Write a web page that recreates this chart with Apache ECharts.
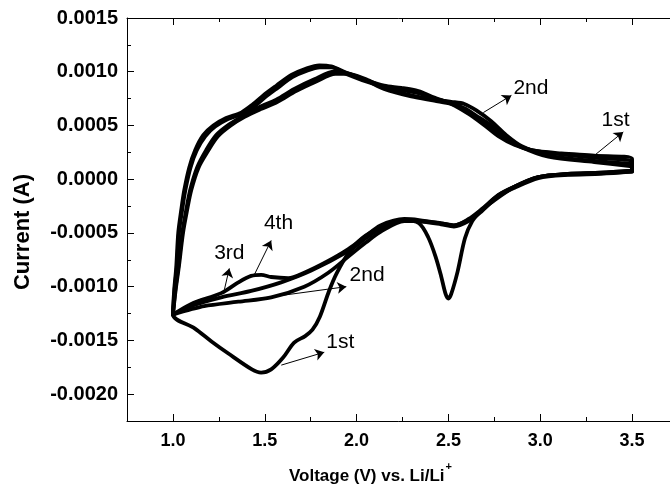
<!DOCTYPE html>
<html><head><meta charset="utf-8">
<script src="https://cdn.jsdelivr.net/npm/echarts@6/dist/echarts.min.js"></script>
<style>html,body{margin:0;padding:0;background:#fff}#c{width:670px;height:491px}</style>
</head><body><div id="c"></div>
<script>
// ---- axis ticks ----
const xTicks = [1.0, 1.5, 2.0, 2.5, 3.0, 3.5];
const xMinorTicks = [1.25, 1.75, 2.25, 2.75, 3.25];
const yTicks = [-0.0020, -0.0015, -0.0010, -0.0005, 0.0, 0.0005, 0.0010, 0.0015];
const yMinorTicks = [-0.00175, -0.00125, -0.00075, -0.00025, 0.00025, 0.00075, 0.00125];

// ---- CV cycles: [voltage (V), current (A)] cathodic 3.5->1.0 then anodic 1.0->3.5 ----
const cycle1 = [
  [3.5,0.00007],[3.33,0.000056],[3.15,0.000046],[2.99,0.00002],[2.86,-0.00007],[2.73,-0.00022],[2.68,-0.00029],
  [2.63,-0.00039],[2.59,-0.00055],[2.55,-0.00086],[2.515,-0.00107],[2.5,-0.00111],[2.485,-0.00107],[2.46,-0.0009],
  [2.43,-0.00072],[2.39,-0.00054],[2.34,-0.00041],[2.26,-0.00038],[2.13,-0.00045],[2.03,-0.00055],[1.955,-0.00069],
  [1.89,-0.00088],[1.85,-0.00104],[1.80,-0.00128],[1.76,-0.0014],[1.72,-0.00146],[1.66,-0.00152],[1.60,-0.00166],
  [1.535,-0.00177],[1.48,-0.0018],[1.43,-0.00177],[1.30,-0.00162],[1.21,-0.00151],[1.12,-0.00139],[1.0,-0.00126],
  [1.007,-0.00103],[1.018,-0.00082],[1.029,-0.0005],[1.045,-0.00029],[1.062,-0.0001],[1.089,0.00011],[1.121,0.00027],
  [1.165,0.00041],[1.22,0.0005],[1.29,0.00057],[1.372,0.00062],[1.437,0.0007],[1.492,0.00078],[1.563,0.00087],
  [1.645,0.00097],[1.726,0.00103],[1.797,0.00106],[1.862,0.00105],[1.944,0.00099],[2.052,0.00092],[2.15,0.00087],
  [2.243,0.00085],[2.336,0.00082],[2.423,0.00076],[2.516,0.0007],[2.608,0.00061],[2.69,0.00051],[2.772,0.0004],
  [2.859,0.00032],[2.952,0.00027],[3.115,0.00024],[3.294,0.00022],[3.5,0.00019],[3.5,0.00008]
];
const cycle2 = [
  [3.5,0.00008],[3.33,0.00006],[3.15,0.00005],[2.99,0.00002],[2.86,-0.00007],[2.77,-0.00015],[2.68,-0.00028],
  [2.61,-0.00037],[2.53,-0.00043],[2.46,-0.00041],[2.34,-0.00039],[2.26,-0.00039],[2.13,-0.00049],[2.05,-0.00059],
  [1.955,-0.00072],[1.846,-0.00087],[1.715,-0.001],[1.535,-0.0011],[1.356,-0.00114],[1.17,-0.00118],[1.1,-0.00121],
  [1.0,-0.00126],
  [1.013,-0.00103],[1.029,-0.00082],[1.051,-0.0005],[1.072,-0.00029],[1.094,-0.0001],[1.132,0.00011],[1.181,0.00027],
  [1.236,0.00041],[1.307,0.00051],[1.383,0.00059],[1.47,0.00067],[1.563,0.00074],[1.661,0.00084],[1.77,0.00093],
  [1.879,0.001],[1.944,0.00099],[2.052,0.00093],[2.15,0.00085],[2.298,0.00078],[2.423,0.00074],[2.516,0.00072],
  [2.587,0.0007],[2.652,0.00064],[2.733,0.00054],[2.815,0.00041],[2.897,0.00031],[3.044,0.00022],[3.294,0.00017],
  [3.5,0.00013],[3.5,0.00008]
];
const cycle3 = [
  [3.5,0.00007],[3.33,0.00005],[3.15,0.00004],[2.99,0.00001],[2.86,-0.00008],[2.77,-0.00016],[2.68,-0.0003],
  [2.61,-0.00039],[2.53,-0.00044],[2.46,-0.00042],[2.34,-0.00039],[2.26,-0.00038],[2.13,-0.00046],[2.05,-0.00055],
  [1.955,-0.00067],[1.753,-0.00085],[1.589,-0.00096],[1.426,-0.00104],[1.263,-0.0011],[1.1,-0.00118],[1.0,-0.00126],
  [1.009,-0.00103],[1.021,-0.00082],[1.033,-0.0005],[1.05,-0.00029],[1.068,-0.0001],[1.096,0.00011],[1.13,0.00027],
  [1.176,0.0004],[1.23,0.00049],[1.3,0.00056],[1.38,0.00061],[1.445,0.00068],[1.5,0.00076],[1.57,0.00085],
  [1.65,0.00095],[1.73,0.00101],[1.8,0.00104],[1.862,0.00104],[1.944,0.00098],[2.052,0.00091],[2.15,0.00086],
  [2.243,0.00083],[2.336,0.0008],[2.423,0.00075],[2.516,0.00071],[2.608,0.00063],[2.69,0.00053],[2.772,0.00042],
  [2.859,0.00033],[2.952,0.00027],[3.115,0.00023],[3.294,0.0002],[3.5,0.00016],[3.5,0.00008]
];
const cycle4 = [
  [3.5,0.00008],[3.33,0.00006],[3.15,0.00005],[2.99,0.00002],[2.86,-0.00007],[2.77,-0.00015],[2.68,-0.00029],
  [2.61,-0.00038],[2.53,-0.00043],[2.46,-0.00041],[2.34,-0.00038],[2.26,-0.00037],[2.13,-0.00043],[2.05,-0.00053],
  [1.955,-0.00065],[1.835,-0.00077],[1.715,-0.00087],[1.628,-0.00092],[1.535,-0.00091],[1.481,-0.00089],
  [1.426,-0.0009],[1.356,-0.00096],[1.263,-0.00106],[1.1,-0.00116],[1.0,-0.00126],
  [1.015,-0.00103],[1.032,-0.00082],[1.055,-0.0005],[1.077,-0.00029],[1.1,-0.0001],[1.14,0.00011],[1.19,0.00026],
  [1.245,0.0004],[1.315,0.0005],[1.39,0.00058],[1.475,0.00065],[1.57,0.00072],[1.67,0.00082],[1.78,0.00091],
  [1.885,0.00098],[1.95,0.00098],[2.052,0.00092],[2.15,0.00084],[2.298,0.00077],[2.423,0.00073],[2.516,0.0007],
  [2.587,0.00066],[2.652,0.00059],[2.733,0.0005],[2.815,0.00039],[2.897,0.0003],[3.044,0.00021],[3.294,0.00016],
  [3.5,0.00012]
];

// ---- annotations: arrow start, arrow end, label anchor (data coords) ----
const annoText = ['2nd', '1st', '4th', '3rd', '2nd', '1st'];
const annoFrom = [[2.69,0.00062],[3.294,0.00022],[1.443,-0.00089],[1.28,-0.00103],[1.426,-0.00112],[1.59,-0.00173]];
const annoTo   = [[2.843,0.00078],[3.452,0.00044],[1.535,-0.00057],[1.307,-0.00083],[1.944,-0.001],[1.824,-0.00161]];
const annoAt   = [[2.854,0.00085],[3.41,0.00055],[1.575,-0.00041],[1.307,-0.00069],[1.962,-0.00089],[1.835,-0.00152]];
const annoAlign = ['left','center','center','center','left','left'];

const X_MIN = 0.75, X_MAX = 3.75, Y_MIN = -0.00225, Y_MAX = 0.0015;
const axisCol = '#000';
function xAx(pos, major, labels) {
  return {
    type: 'value', position: pos, min: X_MIN, max: X_MAX,
    axisLine: { show: major, onZero: false, lineStyle: { color: axisCol, width: 1 } },
    splitLine: { show: false },
    axisTick: { show: true, inside: true, length: major ? 7 : 4, customValues: major ? xTicks : xMinorTicks,
                lineStyle: { color: axisCol, width: 1 } },
    axisLabel: { show: labels, customValues: xTicks, margin: 11, color: '#000',
                 fontFamily: 'Liberation Sans, Arial, sans-serif', fontWeight: 'bold', fontSize: 18,
                 formatter: v => v.toFixed(1) }
  };
}
function yAx(pos, major, labels) {
  return {
    type: 'value', position: pos, min: Y_MIN, max: Y_MAX,
    axisLine: { show: major, onZero: false, lineStyle: { color: axisCol, width: 1 } },
    splitLine: { show: false },
    axisTick: { show: true, inside: true, length: major ? 7 : 4, customValues: major ? yTicks : yMinorTicks,
                lineStyle: { color: axisCol, width: 1 } },
    axisLabel: { show: labels, customValues: yTicks, margin: 9, color: '#000',
                 fontFamily: 'Liberation Sans, Arial, sans-serif', fontWeight: 'bold', fontSize: 20,
                 formatter: v => v.toFixed(4) }
  };
}

const lineSeries = [cycle1, cycle2, cycle3, cycle4].map((d, k) => ({
  type: 'line', name: 'cycle' + (k + 1), data: d, xAxisIndex: 0, yAxisIndex: 0,
  showSymbol: false, symbol: 'none', smooth: 0.3, smoothMonotone: 'none',
  lineStyle: { color: '#000', width: 3.8, cap: 'round', join: 'round' }, silent: true
}));

const arrowSeries = {
  type: 'line', data: [], xAxisIndex: 0, yAxisIndex: 0, silent: true,
  markLine: {
    silent: true, symbol: ['none', 'arrow'], symbolSize: 9, animation: false,
    label: { show: false },
    lineStyle: { color: '#000', width: 1, type: 'solid' },
    data: annoFrom.map((f, i) => [{ coord: f }, { coord: annoTo[i] }])
  }
};

const chart = echarts.init(document.getElementById('c'), null, { renderer: 'canvas' });
chart.setOption({
  animation: false,
  backgroundColor: '#fff',
  grid: { left: 127, top: 18, width: 551, height: 403, outerBoundsMode: 'none' },
  xAxis: [xAx('bottom', true, true), xAx('bottom', false, false), xAx('top', true, false), xAx('top', false, false)],
  yAxis: [yAx('left', true, true), yAx('left', false, false), yAx('right', true, false), yAx('right', false, false)],
  series: lineSeries.concat([arrowSeries])
});

const texts = annoText.map((t, i) => {
  const p = chart.convertToPixel({ xAxisIndex: 0, yAxisIndex: 0 }, annoAt[i]);
  return { type: 'text', x: p[0], y: p[1], silent: true,
           style: { text: t, fill: '#000', font: '21px "Liberation Sans", Arial, sans-serif',
                    align: annoAlign[i], verticalAlign: 'middle' } };
});
texts.push({ type: 'text', x: 23, y: 232, rotation: Math.PI / 2, silent: true,
  style: { text: 'Current (A)', fill: '#000', font: 'bold 22px "Liberation Sans", Arial, sans-serif',
           align: 'center', verticalAlign: 'middle' } });
const titleFont = 'bold 17px "Liberation Sans", Arial, sans-serif';
const titleText = 'Voltage (V) vs. Li/Li';
const titleW = new echarts.graphic.Text({ style: { text: titleText, font: titleFont } }).getBoundingRect().width;
const titleLeft = 289;
texts.push({ type: 'text', x: titleLeft, y: 476, silent: true,
  style: { text: titleText, fill: '#000', font: titleFont, align: 'left', verticalAlign: 'middle' } });
texts.push({ type: 'text', x: titleLeft + titleW + 1, y: 467, silent: true,
  style: { text: '+', fill: '#000', font: 'bold 11px "Liberation Sans", Arial, sans-serif',
           align: 'left', verticalAlign: 'middle' } });
chart.setOption({ graphic: texts });
</script>
</body></html>
